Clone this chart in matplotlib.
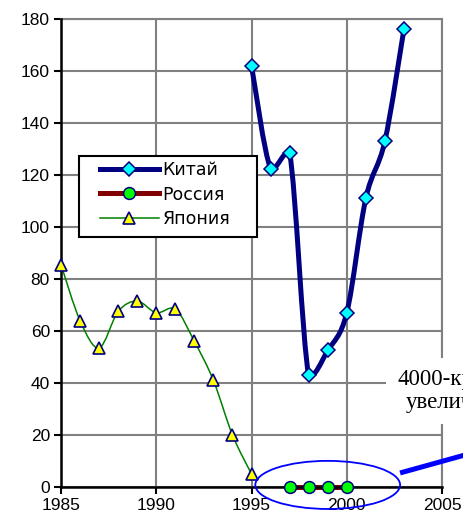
import numpy as np
import matplotlib
matplotlib.use("Agg")
import matplotlib.pyplot as plt
from matplotlib.path import Path
from matplotlib.patches import PathPatch, Ellipse, Rectangle
from matplotlib.lines import Line2D

plt.rcParams['font.family'] = ['Liberation Sans', 'DejaVu Sans']

# --- data ---
china_years = [1995, 1996, 1997, 1998, 1999, 2000, 2001, 2002, 2003]
china_vals  = [162, 122.5, 128.5, 43, 52.5, 67, 111, 133, 176]

russia_years = [1997, 1998, 1999, 2000]
russia_vals  = [0, 0, 0, 0]

japan_years = [1985, 1986, 1987, 1988, 1989, 1990, 1991, 1992, 1993, 1994, 1995]
japan_vals  = [85.5, 64, 53.5, 67.5, 71.5, 67, 68.5, 56, 41, 20, 5]

labels = ["Китай", "Россия", "Япония"]
note = "4000-кратное\nувеличение"


def smooth_path(xs, ys, margin=1.5):
    """Bezier path through the points (like Excel's 'smoothed line'),
    with control points kept close to each segment's range to avoid overshoot."""
    p = np.column_stack([xs, ys]).astype(float)
    ext = np.vstack([p[0], p, p[-1]])
    verts = [p[0]]
    codes = [Path.MOVETO]
    for i in range(len(p) - 1):
        p0, p1, p2, p3 = ext[i], ext[i + 1], ext[i + 2], ext[i + 3]
        c1 = p1 + (p2 - p0) / 6.0
        c2 = p2 - (p3 - p1) / 6.0
        lo, hi = min(p1[1], p2[1]) - margin, max(p1[1], p2[1]) + margin
        c1[1] = np.clip(c1[1], lo, hi)
        c2[1] = np.clip(c2[1], lo, hi)
        verts += [c1, c2, p2]
        codes += [Path.CURVE4] * 3
    return Path(verts, codes)


fig = plt.figure(figsize=(4.64, 5.25), dpi=100)
ax = fig.add_axes([0.1315, 0.0724, 0.8211, 0.8914])

grey = '#808080'
navy = '#000080'

# smoothed lines
ax.add_patch(PathPatch(smooth_path(japan_years, japan_vals), fill=False,
                       edgecolor='#008000', lw=1.1, zorder=3))
ax.add_patch(PathPatch(smooth_path(china_years, china_vals), fill=False,
                       edgecolor=navy, lw=3.6, capstyle='round', joinstyle='round', zorder=3))
ax.plot(russia_years, russia_vals, color='#800000', lw=3.6, zorder=3, clip_on=False)

# markers
ax.plot(japan_years, japan_vals, ls='none', marker='^', ms=8, mfc='#FFFF00',
        mec=navy, mew=1.2, zorder=4, clip_on=False)
ax.plot(china_years, china_vals, ls='none', marker='D', ms=7, mfc='#00FFFF',
        mec=navy, mew=1.1, zorder=4, clip_on=False)
ax.plot(russia_years, russia_vals, ls='none', marker='o', ms=8.5, mfc='#00FF00',
        mec=navy, mew=1.1, zorder=5, clip_on=False)

ax.set_xlim(1985, 2005)
ax.set_ylim(0, 180)
ax.set_xticks(range(1985, 2006, 5))
ax.set_yticks(range(0, 181, 20))
ax.tick_params(direction='out', length=5, width=1.5, color='black', labelsize=12.5, pad=3)
ax.grid(True, color=grey, lw=1.5)
ax.set_axisbelow(True)
for s in ['top', 'right']:
    ax.spines[s].set_color(grey)
    ax.spines[s].set_linewidth(1.5)
for s in ['left', 'bottom']:
    ax.spines[s].set_color('black')
    ax.spines[s].set_linewidth(1.8)
    ax.spines[s].set_zorder(3.5)

# legend: frame drawn separately so it can be as wide as the original
ax.add_patch(Rectangle((0.047, 0.534), 0.467, 0.173, transform=ax.transAxes,
                       facecolor='white', edgecolor='black', lw=1.5, zorder=6))
handles = [
    Line2D([], [], color=navy, lw=3.6, marker='D', ms=7, mfc='#00FFFF', mec=navy, mew=1.1),
    Line2D([], [], color='#800000', lw=3.6, marker='o', ms=8.5, mfc='#00FF00', mec=navy, mew=1.1),
    Line2D([], [], color='#008000', lw=1.1, marker='^', ms=8, mfc='#FFFF00', mec=navy, mew=1.2),
]
leg = ax.legend(handles, labels, loc='upper left', bbox_to_anchor=(0.102, 0.696),
                borderaxespad=0, borderpad=0, frameon=False,
                prop={'family': 'DejaVu Sans', 'size': 12.5},
                handlelength=3.4, handletextpad=0.2, labelspacing=0.36)
leg.set_zorder(7)

# annotation: ellipse, pointer line and note (cut by the picture edge, as in the original)
ax.add_patch(Ellipse((1999, 0.8), 7.6, 18.5, fill=False, edgecolor='#0000FF',
                     lw=1.3, zorder=6, clip_on=False))
ax.plot([2002.8, 2006.2], [5.4, 12.3], color='#0000FF', lw=3.6, zorder=6,
        clip_on=False, solid_capstyle='butt')
ax.text(2002.64, 36.9, note, ha='left', va='center', multialignment='center',
        family=['Liberation Serif', 'DejaVu Serif'], fontsize=16.5, linespacing=1.15,
        zorder=7, clip_on=False,
        bbox=dict(facecolor='white', edgecolor='none', pad=8))

fig.savefig('out.png', dpi=100)
